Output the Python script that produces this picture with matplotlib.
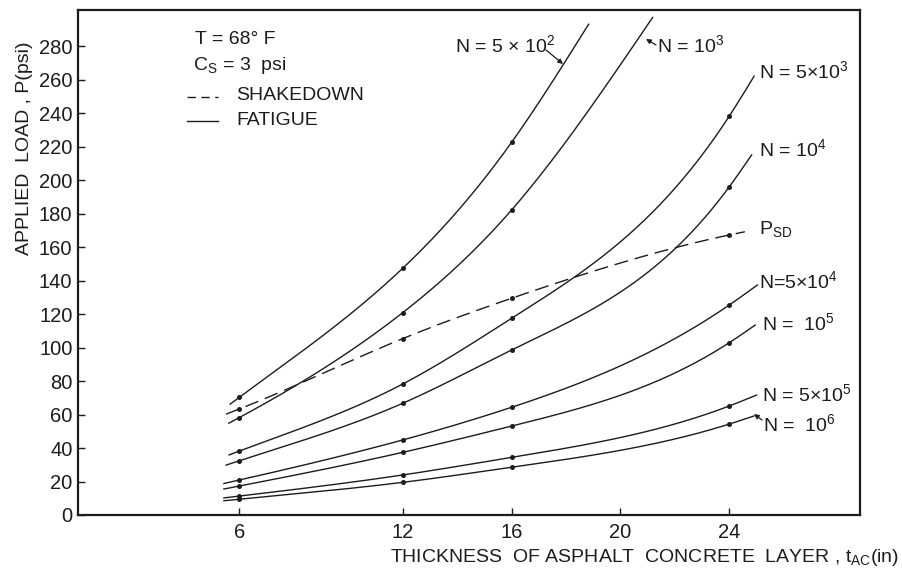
import numpy as np
import matplotlib
matplotlib.use("Agg")
import matplotlib.pyplot as plt

plt.rcParams["font.family"] = ["Liberation Sans", "DejaVu Sans"]
plt.rcParams["mathtext.fontset"] = "custom"
plt.rcParams["mathtext.rm"] = "Liberation Sans"
plt.rcParams["mathtext.it"] = "Liberation Sans"
plt.rcParams["mathtext.bf"] = "Liberation Sans:bold"

INK = "#1c1c1c"

# Thickness values where computed loads are marked
marked_t = [6, 12, 16, 24]

# Fatigue curves: thickness (in) and allowable load (psi); first/last entries are curve ends
n5e2_t = [5.66, 6, 12, 16, 18.83]
n5e2_p = [66.2, 70.3, 147.3, 222.5, 293.0]

n1e3_t = [5.61, 6, 12, 16, 21.18]
n1e3_p = [54.8, 58.2, 120.8, 182.1, 297.0]

n5e3_t = [5.62, 6, 12, 16, 24, 24.91]
n5e3_p = [35.9, 38.2, 78.2, 117.4, 238.2, 262.0]

n1e4_t = [5.51, 6, 12, 16, 24, 24.82]
n1e4_p = [29.8, 32.4, 66.7, 98.5, 196.0, 215.0]

n5e4_t = [5.43, 6, 12, 16, 24, 25.03]
n5e4_p = [18.8, 20.9, 44.8, 64.3, 125.4, 137.3]

n1e5_t = [5.43, 6, 12, 16, 24, 24.95]
n1e5_p = [15.5, 17.3, 37.4, 53.1, 102.9, 113.4]

n5e5_t = [5.43, 6, 12, 16, 24, 25.0]
n5e5_p = [10.2, 11.3, 23.9, 34.4, 65.1, 71.6]

n1e6_t = [5.43, 6, 12, 16, 24, 24.9]
n1e6_p = [8.5, 9.4, 19.5, 28.5, 54.3, 59.1]

# Shakedown load curve
psd_t = [5.51, 6, 12, 16, 24, 24.57]
psd_p = [60.2, 63.3, 105.3, 129.4, 167.2, 169.1]

x_ticks = [6, 12, 16, 20, 24]
y_ticks = list(range(0, 281, 20))


def natural_spline(xk, yk, xs):
    xk = np.asarray(xk, float)
    yk = np.asarray(yk, float)
    n = len(xk)
    h = np.diff(xk)
    A = np.zeros((n, n))
    r = np.zeros(n)
    A[0, 0] = A[-1, -1] = 1.0
    for i in range(1, n - 1):
        A[i, i - 1] = h[i - 1]
        A[i, i] = 2 * (h[i - 1] + h[i])
        A[i, i + 1] = h[i]
        r[i] = 3 * ((yk[i + 1] - yk[i]) / h[i] - (yk[i] - yk[i - 1]) / h[i - 1])
    c = np.linalg.solve(A, r)
    b = (yk[1:] - yk[:-1]) / h - h * (2 * c[:-1] + c[1:]) / 3
    d = (c[1:] - c[:-1]) / (3 * h)
    idx = np.clip(np.searchsorted(xk, xs) - 1, 0, n - 2)
    dx = xs - xk[idx]
    return yk[idx] + b[idx] * dx + c[idx] * dx ** 2 + d[idx] * dx ** 3


W, H = 902, 574
fig = plt.figure(figsize=(W / 100, H / 100), dpi=100)
ax = fig.add_axes([78 / W, 1 - 515 / H, (860 - 78) / W, (515 - 10) / H])


def draw_curve(t, p, dashed=False):
    xs = np.linspace(t[0], t[-1], 300)
    ys = natural_spline(t, p, xs)
    if dashed:
        ax.plot(xs, ys, color=INK, lw=1.0, dashes=(10, 5))
    else:
        ax.plot(xs, ys, color=INK, lw=1.0)
    mt = [tt for tt in t if tt in marked_t]
    mp = [pp for tt, pp in zip(t, p) if tt in marked_t]
    ax.plot(mt, mp, "o", color=INK, ms=3.6, mew=0)


for t, p in [(n5e2_t, n5e2_p), (n1e3_t, n1e3_p), (n5e3_t, n5e3_p), (n1e4_t, n1e4_p),
             (n5e4_t, n5e4_p), (n1e5_t, n1e5_p), (n5e5_t, n5e5_p), (n1e6_t, n1e6_p)]:
    draw_curve(t, p)
draw_curve(psd_t, psd_p, dashed=True)

ax.set_xlim(0.07, 28.8)
ax.set_ylim(0, 301.5)
ax.set_xticks(x_ticks)
ax.set_yticks(y_ticks)
ax.tick_params(direction="in", length=5, width=1.0, labelsize=14.5, colors=INK)
ax.tick_params(axis="y", pad=4)
ax.tick_params(axis="x", pad=6)
for s in ax.spines.values():
    s.set_linewidth(1.6)
    s.set_color(INK)


def ftext(px, py, s, **kw):
    kw.setdefault("fontsize", 14)
    kw.setdefault("color", INK)
    kw.setdefault("va", "center")
    fig.text(px / W, 1 - py / H, s, **kw)


def fpos(px, py):
    return (px / W, 1 - py / H)


# Axis titles
ftext(25, 148, "APPLIED  LOAD , P(psi)", rotation=90, ha="center")
ftext(645, 557, r"THICKNESS  OF ASPHALT  CONCRETE  LAYER , t$_\mathrm{AC}$(in)", ha="center")

# Condition block and line-style key
ftext(195, 40, "T = 68° F")
ftext(193, 66, r"C$_\mathrm{S}$ = 3  psi")
ftext(236, 95, "SHAKEDOWN")
ftext(236, 121, "FATIGUE")
fig.add_artist(plt.Line2D([187 / W, 218 / W], [1 - 97 / H, 1 - 97 / H], color=INK, lw=1.0, dashes=(6, 4)))
fig.add_artist(plt.Line2D([187 / W, 218 / W], [1 - 121 / H, 1 - 121 / H], color=INK, lw=1.0))

# Curve labels
ftext(455, 45, r"N = 5 × 10$^2$")
ftext(657, 45, r"N = 10$^3$")
ftext(759, 71, r"N = 5×10$^3$")
ftext(759, 149, r"N = 10$^4$")
ftext(759, 229, r"P$_\mathrm{SD}$")
ftext(759, 281, r"N=5×10$^4$")
ftext(762, 323, r"N =  10$^5$")
ftext(762, 394, r"N = 5×10$^5$")
ftext(763, 424, r"N =  10$^6$")

arrow = dict(arrowstyle="-|>", color=INK, lw=0.9, mutation_scale=7, shrinkA=0, shrinkB=0)
fig.add_artist(matplotlib.patches.FancyArrowPatch(fpos(546, 50), fpos(563, 64),
                                                  transform=fig.transFigure, **arrow))
fig.add_artist(matplotlib.patches.FancyArrowPatch(fpos(656, 45), fpos(646, 39),
                                                  transform=fig.transFigure, **arrow))
fig.add_artist(matplotlib.patches.FancyArrowPatch(fpos(762, 420), fpos(754, 414),
                                                  transform=fig.transFigure, **arrow))

fig.savefig("out.png", dpi=100)
